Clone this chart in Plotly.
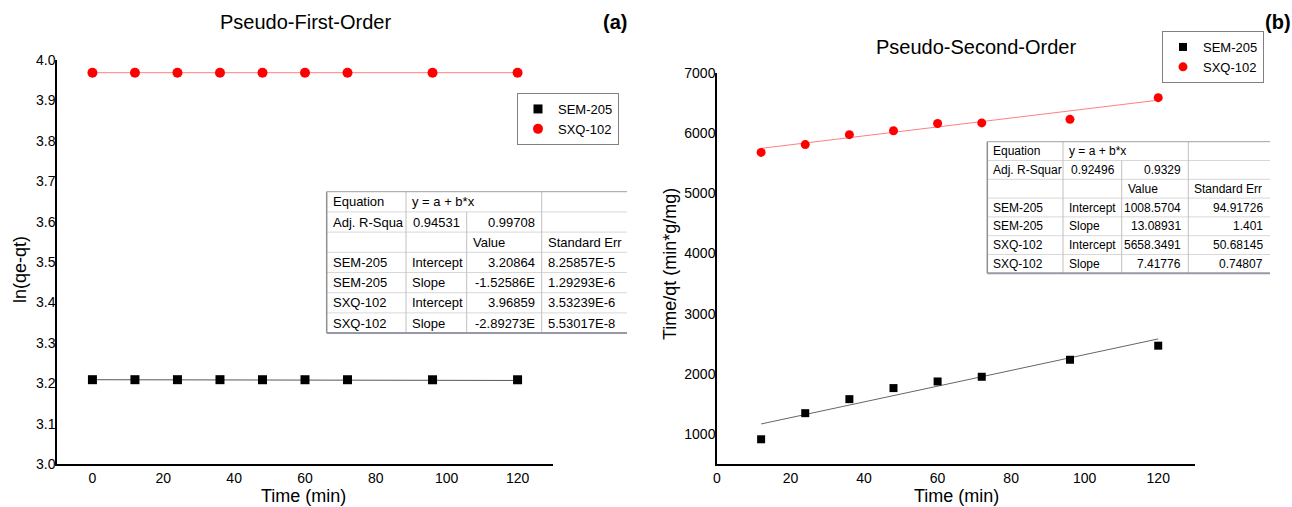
import numpy as np
import plotly.graph_objects as go

W, H = 1292, 507
FONT = "Liberation Sans, Arial, sans-serif"

# ---------------- data ----------------
series_names = ["SEM-205", "SXQ-102"]

# (a) Pseudo-first-order
t_a = [0, 12, 24, 36, 48, 60, 72, 96, 120]
sem_a = [3.2087, 3.2087, 3.2087, 3.2087, 3.2086, 3.2086, 3.2086, 3.2085, 3.2085]
sxq_a = [3.9686, 3.9686, 3.9686, 3.9686, 3.9686, 3.9686, 3.9686, 3.9686, 3.9686]
fit_a_intercept = [3.20864, 3.96859]
fit_a_slope = [-1.52586e-5, -2.89273e-7]

# (b) Pseudo-second-order
t_b = [12, 24, 36, 48, 60, 72, 96, 120]
sem_b = [911, 1345, 1578, 1762, 1872, 1950, 2233, 2467]
sxq_b = [5680, 5810, 5975, 6040, 6160, 6170, 6230, 6590]
fit_b_intercept = [1008.5704, 5658.3491]
fit_b_slope = [13.08931, 7.41776]

x_ticks = [0, 20, 40, 60, 80, 100, 120]
y_ticks_a = [3.0, 3.1, 3.2, 3.3, 3.4, 3.5, 3.6, 3.7, 3.8, 3.9, 4.0]
y_ticks_b = [1000, 2000, 3000, 4000, 5000, 6000, 7000]

table_a = [
    ["Equation", "y = a + b*x", "", ""],
    ["Adj. R-Squa", "0.94531", "0.99708", ""],
    ["", "", "Value", "Standard Err"],
    ["SEM-205", "Intercept", "3.20864", "8.25857E-5"],
    ["SEM-205", "Slope", "-1.52586E", "1.29293E-6"],
    ["SXQ-102", "Intercept", "3.96859", "3.53239E-6"],
    ["SXQ-102", "Slope", "-2.89273E", "5.53017E-8"],
]
table_b = [
    ["Equation", "y = a + b*x", "", ""],
    ["Adj. R-Squar", "0.92496", "0.9329", ""],
    ["", "", "Value", "Standard Err"],
    ["SEM-205", "Intercept", "1008.5704", "94.91726"],
    ["SEM-205", "Slope", "13.08931", "1.401"],
    ["SXQ-102", "Intercept", "5658.3491", "50.68145"],
    ["SXQ-102", "Slope", "7.41776", "0.74807"],
]

# ---------------- helpers ----------------
def px(x):
    return x / W

def py(y):
    return 1 - y / H

fig = go.Figure()

# ---- (a) ----
xa = np.array([min(t_a), max(t_a)], dtype=float)
fig.add_trace(go.Scatter(x=xa, y=fit_a_intercept[0] + fit_a_slope[0] * xa, mode="lines",
                         line=dict(color="#555555", width=1), showlegend=False,
                         xaxis="x", yaxis="y", hoverinfo="skip"))
fig.add_trace(go.Scatter(x=xa, y=fit_a_intercept[1] + fit_a_slope[1] * xa, mode="lines",
                         line=dict(color="#ff8080", width=1), showlegend=False,
                         xaxis="x", yaxis="y", hoverinfo="skip"))
fig.add_trace(go.Scatter(x=t_a, y=sem_a, mode="markers", name=series_names[0],
                         marker=dict(symbol="square", color="black", size=9),
                         xaxis="x", yaxis="y", legend="legend"))
fig.add_trace(go.Scatter(x=t_a, y=sxq_a, mode="markers", name=series_names[1],
                         marker=dict(symbol="circle", color="#ff0000", size=10),
                         xaxis="x", yaxis="y", legend="legend"))

# ---- (b) ----
xb = np.array([min(t_b), max(t_b)], dtype=float)
fig.add_trace(go.Scatter(x=xb, y=fit_b_intercept[0] + fit_b_slope[0] * xb, mode="lines",
                         line=dict(color="#666666", width=1), showlegend=False,
                         xaxis="x2", yaxis="y2", hoverinfo="skip"))
fig.add_trace(go.Scatter(x=xb, y=fit_b_intercept[1] + fit_b_slope[1] * xb, mode="lines",
                         line=dict(color="#ff8080", width=1), showlegend=False,
                         xaxis="x2", yaxis="y2", hoverinfo="skip"))
fig.add_trace(go.Scatter(x=t_b, y=sem_b, mode="markers", name=series_names[0],
                         marker=dict(symbol="square", color="black", size=8),
                         xaxis="x2", yaxis="y2", legend="legend2"))
fig.add_trace(go.Scatter(x=t_b, y=sxq_b, mode="markers", name=series_names[1],
                         marker=dict(symbol="circle", color="#ff0000", size=9),
                         xaxis="x2", yaxis="y2", legend="legend2"))

axis_common = dict(showline=True, linecolor="black", linewidth=1.5, showgrid=False,
                   zeroline=False, ticks="", tickfont=dict(family=FONT, size=14, color="black"),
                   fixedrange=True, automargin=False)

layout = dict(
    width=W, height=H, margin=dict(l=0, r=0, t=0, b=0, pad=0, autoexpand=False),
    paper_bgcolor="white", plot_bgcolor="white",
    font=dict(family=FONT, color="black"),
    xaxis=dict(axis_common, domain=[px(57), px(553)], range=[-10, 130],
               tickvals=x_ticks, anchor="y", ticklabelstandoff=0),
    yaxis=dict(axis_common, domain=[py(464), py(60)], range=[3.0, 4.0],
               tickvals=y_ticks_a, tickformat=".1f", anchor="x", ticklabelstandoff=-3),
    xaxis2=dict(axis_common, domain=[px(717), px(1195)], range=[0, 130],
                tickvals=x_ticks, anchor="y2", ticklabelstandoff=0),
    yaxis2=dict(axis_common, domain=[py(464), py(73)], range=[500, 7000],
                tickvals=y_ticks_b, anchor="x2", ticklabelstandoff=-3),
    legend=dict(x=px(517), y=py(93), xanchor="left", yanchor="top",
                bordercolor="#808080", borderwidth=1, bgcolor="white",
                font=dict(family=FONT, size=13, color="black"),
                itemwidth=30, tracegroupgap=0),
    legend2=dict(x=px(1162), y=py(31), xanchor="left", yanchor="top",
                 bordercolor="#808080", borderwidth=1, bgcolor="white",
                 font=dict(family=FONT, size=13, color="black"),
                 itemwidth=30, tracegroupgap=0),
)
fig.update_layout(**layout)

ann = []
def text(x, y, s, size, bold=False, xanchor="center", angle=0, yanchor="middle"):
    ann.append(dict(x=px(x), y=py(y), xref="paper", yref="paper", text=(f"<b>{s}</b>" if bold else s),
                    showarrow=False, xanchor=xanchor, yanchor=yanchor, textangle=angle,
                    font=dict(family=FONT, size=size, color="black")))

text(305, 22, "Pseudo-First-Order", 20)
text(615, 22, "(a)", 20, bold=True)
text(976, 47, "Pseudo-Second-Order", 20)
text(1278, 22, "(b)", 20, bold=True)
text(303, 496, "Time (min)", 18)
text(956, 496, "Time (min)", 18)
text(20, 270, "ln(qe-qt)", 18, angle=-90)
text(670, 264, "Time/qt (min*g/mg)", 18, angle=-90)

shapes = []
def draw_table(rows, cols, top, row_h, fsize, col4_align):
    nrows = len(rows)
    bottom = top + row_h * nrows
    shapes.append(dict(type="rect", xref="paper", yref="paper", x0=px(cols[0]), x1=px(cols[-1]),
                       y0=py(bottom), y1=py(top), fillcolor="white", line=dict(width=0), layer="above"))
    for i in range(1, nrows):
        y = top + row_h * i
        shapes.append(dict(type="line", xref="paper", yref="paper", x0=px(cols[0]), x1=px(cols[-1]),
                           y0=py(y), y1=py(y), line=dict(color="#d8d8d8", width=1), layer="above"))
    for j in range(1, len(cols) - 1):
        ystart = top if j != 2 else top + row_h
        shapes.append(dict(type="line", xref="paper", yref="paper", x0=px(cols[j]), x1=px(cols[j]),
                           y0=py(ystart), y1=py(bottom), line=dict(color="#c0c0c0", width=1), layer="above"))
    shapes.append(dict(type="line", xref="paper", yref="paper", x0=px(cols[0]), x1=px(cols[-1]),
                       y0=py(top), y1=py(top), line=dict(color="#a0a0a0", width=1), layer="above"))
    shapes.append(dict(type="line", xref="paper", yref="paper", x0=px(cols[0]), x1=px(cols[0]),
                       y0=py(top), y1=py(bottom), line=dict(color="#909090", width=1.5), layer="above"))
    shapes.append(dict(type="line", xref="paper", yref="paper", x0=px(cols[0]), x1=px(cols[-1]),
                       y0=py(bottom), y1=py(bottom), line=dict(color="#9898a8", width=2), layer="above"))
    aligns = ["left", "left", "right", col4_align]
    for i, row in enumerate(rows):
        yc = top + row_h * (i + 0.5)
        for j, s in enumerate(row):
            if not s:
                continue
            al = aligns[j]
            if i == 2 or (i == 0 and j == 1):
                al = "left"
            if i == 1 and j == 1:
                al = "right"
            if al == "left":
                x = cols[j] + 4
            else:
                x = cols[j + 1] - 5
            ann.append(dict(x=px(x), y=py(yc), xref="paper", yref="paper", text=s, showarrow=False,
                            xanchor=al, yanchor="middle",
                            font=dict(family=FONT, size=fsize, color="black")))

draw_table(table_a, [326.7, 406, 466.7, 541.7, 627], 191.7, 20.2, 13, "left")
draw_table(table_b, [987.3, 1063, 1121.7, 1188.3, 1270], 141.7, 18.8, 12, "right")

fig.update_layout(annotations=ann, shapes=shapes)
fig.write_html("out.html")
